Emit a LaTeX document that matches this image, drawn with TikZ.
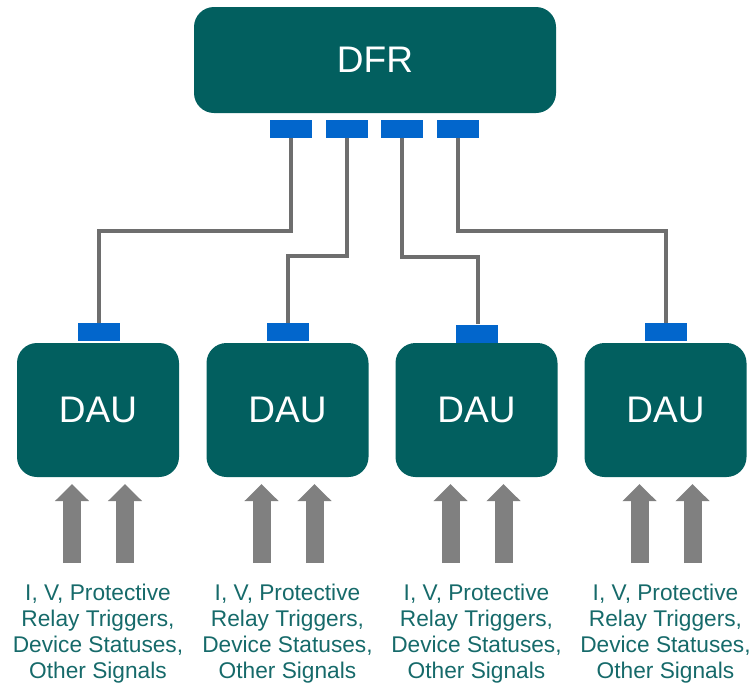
\documentclass[tikz,border=0pt]{standalone}
\usepackage{fontspec}
\setmainfont{Liberation Sans}
\usetikzlibrary{arrows.meta}
\definecolor{boxteal}{RGB}{2,95,95}
\definecolor{portblue}{RGB}{2,102,204}
\definecolor{wiregray}{RGB}{110,110,110}
\definecolor{arrgray}{RGB}{128,128,128}
\definecolor{txtteal}{RGB}{22,106,106}
\begin{document}
\begin{tikzpicture}[x=1pt,y=-1pt,
  mainbox/.style={fill=boxteal,draw=none,rounded corners=20pt,inner sep=0pt,text=white,
    font=\fontsize{37}{40}\selectfont},
  port/.style={fill=portblue,draw=none,minimum width=42pt,minimum height=18pt,inner sep=0pt},
  wire/.style={draw=wiregray,line width=4pt},
  inarrow/.style={draw=arrgray,line width=18pt,-{Triangle[width=33pt,length=17pt]}},
  siglabel/.style={text=txtteal,align=center,inner sep=0pt,anchor=north,
    font=\fontsize{22.7}{26}\selectfont}]
\useasboundingbox (0,0) rectangle (754,683);
% DFR
\node[mainbox,minimum width=362pt,minimum height=106pt] (dfr) at (375,60) {DFR};
\node[port] (t1) at (291,129) {};
\node[port] (t2) at (346.5,129) {};
\node[port] (t3) at (402,129) {};
\node[port] (t4) at (458,129) {};
% DAUs
\foreach \i/\x in {1/98,2/287.5,3/476.5,4/665.5}{
  \node[mainbox,minimum width=162pt,minimum height=134pt] (d\i) at (\x,410) {DAU};
  \node[siglabel] (s\i) at (\x,583.5) {I, V, Protective\\Relay Triggers,\\Device Statuses,\\Other Signals};
  \coordinate (a\i) at (\x-26,563);
  \coordinate (b\i) at (\x+27,563);
  \coordinate (a\i t) at (\x-26,484);
  \coordinate (b\i t) at (\x+27,484);
  \draw[inarrow] (a\i) -- (a\i t);
  \draw[inarrow] (b\i) -- (b\i t);
}
\node[port] (q1) at (98.5,332) {};
\node[port] (q2) at (287.5,332) {};
\node[port] (q3) at (476.5,333.5) {};
\node[port] (q4) at (666,332) {};
% wires
\draw[wire] (t1.south) -- ++(0,93) -| (q1.north);
\draw[wire] (t2.south) -- ++(0,118) -| (q2.north);
\draw[wire] (t3.south) -- ++(0,119) -| ([xshift=1.5pt]q3.north);
\draw[wire] (t4.south) -- ++(0,93) -| (q4.north);
\end{tikzpicture}
\end{document}
